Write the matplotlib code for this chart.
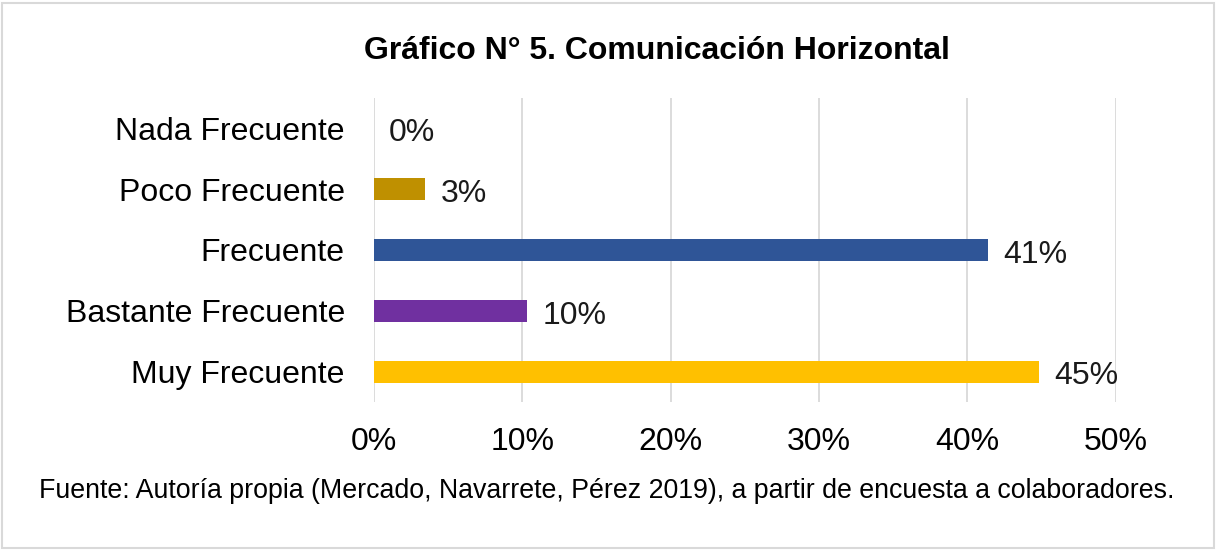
import matplotlib.pyplot as plt
from matplotlib.patches import Rectangle

# data (n = 29 respondents)
categorias = ['Nada Frecuente', 'Poco Frecuente', 'Frecuente', 'Bastante Frecuente', 'Muy Frecuente']
porcentajes = [0.0, 3.45, 41.38, 10.34, 44.83]
etiquetas = ['0%', '3%', '41%', '10%', '45%']
colores = ['#A5A5A5', '#BF9000', '#2F5597', '#7030A0', '#FFC000']
ticks_x = [0, 10, 20, 30, 40, 50]

plt.rcParams['font.family'] = ['Liberation Sans', 'DejaVu Sans']

fig = plt.figure(figsize=(12.18, 5.5), dpi=100)
ax = fig.add_axes([0.307, 0.269, 0.609, 0.553])

pos = list(range(len(categorias)))
ax.barh(pos, porcentajes, height=0.36, color=colores, zorder=3)
for y, v, t in zip(pos, porcentajes, etiquetas):
    ax.annotate(t, (v, y), xytext=(11, -3.5), textcoords='offset points',
                ha='left', va='center', fontsize=23, color='#1a1a1a')

ax.set_xlim(0, 50)
ax.set_ylim(len(categorias) - 0.5, -0.5)
ax.set_yticks(pos)
ax.set_yticklabels(categorias, fontsize=23)
ax.set_xticks(ticks_x)
ax.set_xticklabels([f'{t}%' for t in ticks_x], fontsize=23)
ax.tick_params(length=0)
ax.tick_params(axis='x', pad=18)
ax.tick_params(axis='y', pad=21)
ax.xaxis.grid(True, color='#D9D9D9', linewidth=1.3, zorder=0)
for s in ax.spines.values():
    s.set_visible(False)

fig.text(0.539, 0.908, 'Gráfico N° 5. Comunicación Horizontal', ha='center', va='center',
         fontsize=23, fontweight='bold')
fig.text(0.498, 0.107, 'Fuente: Autoría propia (Mercado, Navarrete, Pérez 2019), a partir de encuesta a colaboradores.',
         ha='center', va='center', fontsize=19.3)

fig.patches.append(Rectangle((0.002, 0.004), 0.995, 0.99, transform=fig.transFigure,
                             fill=False, edgecolor='#D9D9D9', linewidth=1.5))

fig.savefig('out.png', dpi=100)
